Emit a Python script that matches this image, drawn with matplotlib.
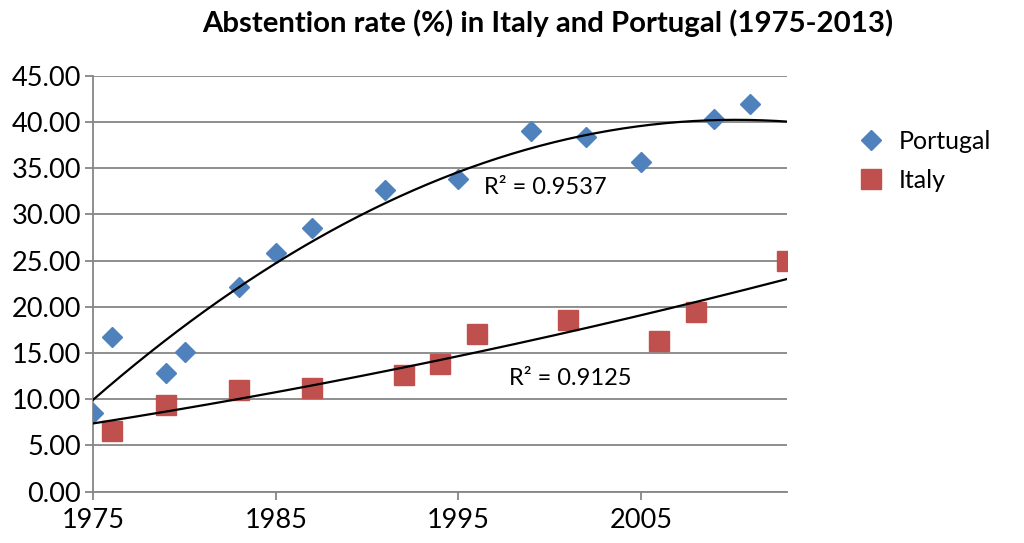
import numpy as np
import matplotlib
matplotlib.use("Agg")
import matplotlib.pyplot as plt

plt.rcParams['font.family'] = ['Lato', 'DejaVu Sans']

# abstention rate (%)
pt_years = [1975, 1976, 1979, 1980, 1983, 1985, 1987, 1991, 1995, 1999, 2002, 2005, 2009, 2011]
pt_rate = [8.48, 16.70, 12.87, 15.15, 22.18, 25.79, 28.56, 32.64, 33.83, 39.03, 38.40, 35.63, 40.29, 41.94]

it_years = [1976, 1979, 1983, 1987, 1992, 1994, 1996, 2001, 2006, 2008, 2013]
it_rate = [6.57, 9.38, 11.00, 11.19, 12.66, 13.81, 17.06, 18.57, 16.34, 19.47, 24.96]

pt_r2 = "R² = 0.9537"
it_r2 = "R² = 0.9125"

blue = '#4F81BD'
red = '#C0504D'
grid_col = '#868686'

fig = plt.figure(figsize=(10.24, 5.43), dpi=100)
ax = fig.add_axes([0.0911, 0.0945, 0.6773, 0.7660])

ax.plot(pt_years, pt_rate, linestyle='none', marker='D', markersize=10.5,
        color=blue, label='Portugal', zorder=3)
ax.plot(it_years, it_rate, linestyle='none', marker='s', markersize=14.5,
        color=red, label='Italy', zorder=3)

# polynomial (order 2) trendlines, like the spreadsheet ones
xx = np.linspace(1975, 2013, 200)
for yrs, vals in [(pt_years, pt_rate), (it_years, it_rate)]:
    c = np.polyfit(np.array(yrs) - 1975, vals, 2)
    ax.plot(xx, np.polyval(c, xx - 1975), color='black', linewidth=1.6, zorder=4)

ax.text(1996.4, 32.9, pt_r2, fontsize=17, va='center')
ax.text(1997.8, 12.2, it_r2, fontsize=17, va='center')

ax.set_xlim(1975, 2013)
ax.set_ylim(0, 45)
ax.set_xticks([1975, 1985, 1995, 2005])
ax.set_yticks(np.arange(0, 46, 5))
ax.set_yticklabels([f"{v:.2f}" for v in np.arange(0, 46, 5)])
ax.tick_params(axis='both', labelsize=19.5, length=6, width=1.3, color=grid_col)
ax.tick_params(axis='x', pad=6)
ax.tick_params(axis='y', pad=3)

ax.yaxis.grid(True, color=grid_col, linewidth=1.3)
ax.set_axisbelow(True)
for s in ['top', 'right']:
    ax.spines[s].set_visible(False)
for s in ['left', 'bottom']:
    ax.spines[s].set_color(grid_col)
    ax.spines[s].set_linewidth(1.3)

fig.text(0.535, 0.958, "Abstention rate (%) in Italy and Portugal (1975-2013)",
         fontsize=21.2, fontweight='bold', ha='center', va='center')

fig.legend(loc='upper left', bbox_to_anchor=(0.814, 0.802), frameon=False,
           fontsize=18, handletextpad=0.5, labelspacing=0.62, handlelength=1.2)

fig.savefig('out.png', dpi=100)
